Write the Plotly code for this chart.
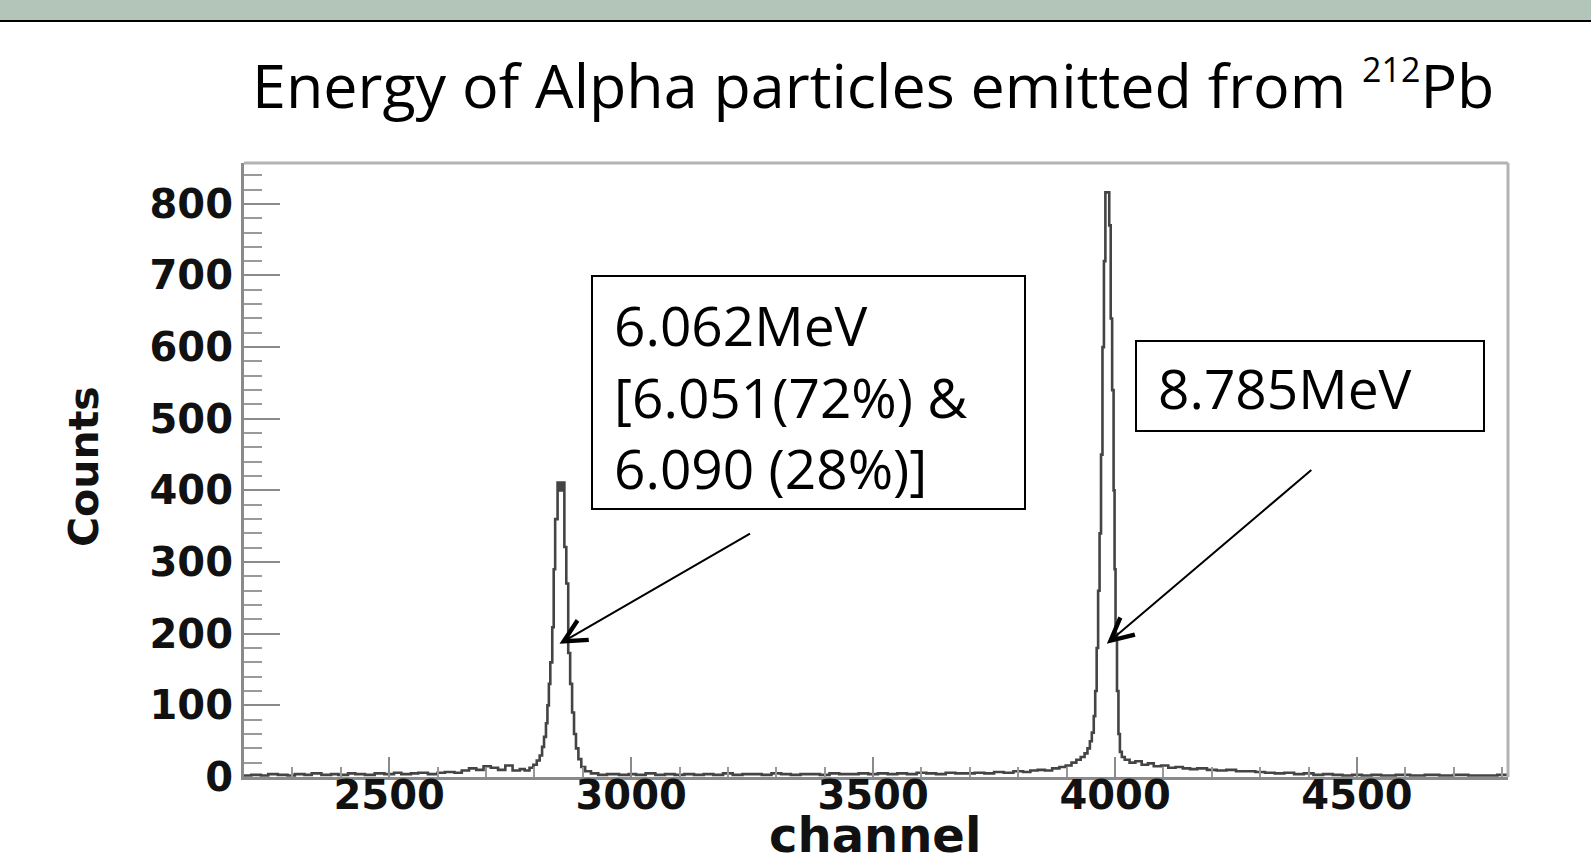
import plotly.graph_objects as go

# ---------------- data ----------------
channel = [2200, 2215, 2235, 2250, 2270, 2290, 2305, 2325, 2340, 2360, 2380, 2395,
           2415, 2430, 2450, 2470, 2490, 2510, 2525, 2545, 2560, 2580, 2600, 2615,
           2635, 2650, 2665, 2680, 2695, 2710, 2725, 2740, 2755, 2770, 2780, 2790,
           2798, 2805, 2811, 2816, 2820, 2824, 2827, 2830, 2833, 2837, 2840, 2843,
           2848, 2853, 2858, 2862, 2866, 2870, 2874, 2878, 2882, 2886, 2891, 2897,
           2905, 2917, 2932, 2950, 2975, 2995, 3010, 3030, 3050, 3070, 3090, 3110,
           3130, 3150, 3170, 3190, 3210, 3230, 3250, 3270, 3290, 3310, 3330, 3350,
           3370, 3390, 3410, 3430, 3450, 3470, 3490, 3510, 3530, 3550, 3570, 3590,
           3610, 3630, 3650, 3670, 3690, 3710, 3730, 3750, 3770, 3790, 3810, 3825,
           3840, 3855, 3870, 3885, 3898, 3910, 3920, 3929, 3937, 3943, 3948, 3952,
           3956, 3959, 3962, 3965, 3968, 3971, 3974, 3977, 3980, 3988, 3991, 3994,
           3997, 3999, 4001, 4004, 4007, 4010, 4014, 4020, 4030, 4042, 4055, 4068,
           4080, 4095, 4110, 4125, 4140, 4155, 4170, 4190, 4210, 4230, 4250, 4270,
           4290, 4310, 4330, 4350, 4370, 4390, 4410, 4430, 4450, 4470, 4490, 4510,
           4530, 4550, 4580, 4610, 4640, 4670, 4700, 4730, 4760, 4790, 4812]
counts = [2, 3, 2, 4, 3, 2, 4, 3, 5, 3, 4, 3,
          5, 4, 3, 5, 4, 6, 4, 5, 6, 4, 6, 7,
          6, 9, 12, 10, 15, 13, 10, 16, 9, 11, 9, 13,
          17, 23, 30, 42, 56, 75, 100, 130, 160, 209, 290, 360,
          411, 400, 411, 321, 270, 173, 130, 90, 60, 40, 25, 14,
          8, 5, 3, 4, 3, 4, 3, 5, 3, 4, 3, 4,
          3, 4, 3, 5, 3, 4, 4, 3, 5, 4, 3, 4,
          4, 3, 5, 4, 4, 5, 4, 5, 4, 5, 4, 6,
          5, 4, 6, 5, 5, 6, 5, 7, 6, 8, 7, 9,
          10, 9, 12, 14, 16, 20, 24, 28, 33, 40, 50, 62,
          85, 120, 180, 260, 340, 450, 600, 720, 816, 770, 640, 540,
          400, 290, 200, 120, 60, 35, 28, 24, 20, 22, 17, 19,
          15, 16, 13, 14, 12, 11, 12, 10, 9, 10, 8, 8,
          7, 6, 5, 6, 4, 5, 3, 4, 3, 2, 3, 2,
          3, 2, 3, 2, 3, 2, 3, 2, 2, 3, 2]

x_tick_vals = [2500, 3000, 3500, 4000, 4500]
y_tick_vals = [0, 100, 200, 300, 400, 500, 600, 700, 800]
x_range = [2200, 4812]
y_range = [0, 857]

title_text = ("Energy of Alpha particles emitted from "
              "<sup><span style='font-size:34px'>212</span></sup>Pb")
x_title = "channel"
y_title = "Counts"
label_a = "6.062MeV<br>[6.051(72%) &<br>6.090 (28%)]"
label_b = "8.785MeV"
arrow_a_tip = (2852, 186)
arrow_b_tip = (3983, 186)

# ---------------- layout geometry (pixels) ----------------
W, H = 1591, 863
L, R, T, B = 244, 1508, 163, 777


def px_x(p):
    return (p - L) / (R - L)


def px_y(p):
    return (B - p) / (B - T)


fig = go.Figure()
fig.add_trace(go.Scatter(
    x=channel, y=counts, mode="lines", line=dict(shape="hv", color="#444444", width=2.6),
    showlegend=False, hoverinfo="x+y"))

tick_font = dict(family="DejaVu Sans", size=40, color="#111111", weight="bold")

xaxis = dict(
    range=x_range, tickvals=x_tick_vals, ticks="inside", ticklen=20, tickwidth=2,
    tickcolor="#8a8a8a", showgrid=False, zeroline=False, automargin=False,
    showline=True, linecolor="#8a8a8a", linewidth=3,
    tickfont=tick_font,
    minor=dict(dtick=100, tick0=2200, ticks="inside", ticklen=10, tickwidth=2,
               tickcolor="#999999", showgrid=False),
)
yaxis = dict(
    range=y_range, tickvals=y_tick_vals, ticks="inside", ticklen=36, tickwidth=2,
    tickcolor="#8a8a8a", showgrid=False, zeroline=False, automargin=False,
    showline=True, linecolor="#8a8a8a", linewidth=3,
    tickfont=tick_font,
    minor=dict(dtick=20, tick0=0, ticks="inside", ticklen=18, tickwidth=2,
               tickcolor="#9a9a9a", showgrid=False),
)

fig.update_layout(
    width=W, height=H, autosize=False,
    margin=dict(l=L, r=W - R, t=T, b=H - B, pad=0, autoexpand=False),
    paper_bgcolor="white", plot_bgcolor="white",
    xaxis=xaxis, yaxis=yaxis,
)
try:
    fig.update_xaxes(ticklabelstandoff=-19)
except Exception:
    pass

shapes = [
    # slide header band
    dict(type="rect", xref="paper", yref="paper", x0=px_x(0), x1=px_x(W), y0=px_y(20), y1=px_y(0),
         fillcolor="#b3c4b9", line=dict(width=0), layer="above"),
    dict(type="rect", xref="paper", yref="paper", x0=px_x(0), x1=px_x(W), y0=px_y(22), y1=px_y(20),
         fillcolor="#000000", line=dict(width=0), layer="above"),
    # frame top / right
    dict(type="line", xref="paper", yref="paper", x0=0, x1=1, y0=1, y1=1,
         line=dict(color="#b3b3b3", width=3)),
    dict(type="line", xref="paper", yref="paper", x0=1, x1=1, y0=0, y1=1,
         line=dict(color="#b3b3b3", width=3)),
    # label boxes
    dict(type="rect", xref="paper", yref="paper", x0=px_x(592), x1=px_x(1025),
         y0=px_y(509), y1=px_y(276), line=dict(color="black", width=2), fillcolor="white"),
    dict(type="rect", xref="paper", yref="paper", x0=px_x(1136), x1=px_x(1484),
         y0=px_y(431), y1=px_y(341), line=dict(color="black", width=2), fillcolor="white"),
]
fig.update_layout(shapes=shapes)

box_font = dict(family="Open Sans", size=55, color="black")
axis_title_font = dict(family="DejaVu Sans", color="#111111", weight="bold")
annotations = [
    dict(text=title_text, xref="paper", yref="paper", x=px_x(250), y=px_y(85),
         xanchor="left", yanchor="middle", showarrow=False,
         font=dict(family="Open Sans", size=61, color="black")),
    dict(text=x_title, xref="paper", yref="paper", x=px_x(875), y=px_y(835),
         xanchor="center", yanchor="middle", showarrow=False,
         font=dict(axis_title_font, size=48)),
    dict(text=y_title, xref="paper", yref="paper", x=px_x(84), y=px_y(467),
         xanchor="center", yanchor="middle", showarrow=False, textangle=-90,
         font=dict(axis_title_font, size=41)),
    dict(text=label_a, xref="paper", yref="paper", x=px_x(612), y=px_y(396),
         xanchor="left", yanchor="middle", align="left", showarrow=False, font=box_font),
    dict(text=label_b, xref="paper", yref="paper", x=px_x(1156), y=px_y(387),
         xanchor="left", yanchor="middle", align="left", showarrow=False, font=box_font),
    dict(text="", x=arrow_a_tip[0], y=arrow_a_tip[1], xref="x", yref="y",
         showarrow=True, axref="pixel", ayref="pixel", ax=753 - 561, ay=533 - 644,
         arrowhead=5, arrowsize=2.2, arrowwidth=2, arrowcolor="black", standoff=0),
    dict(text="", x=arrow_b_tip[0], y=arrow_b_tip[1], xref="x", yref="y",
         showarrow=True, axref="pixel", ayref="pixel", ax=1312 - 1106, ay=469 - 644,
         arrowhead=5, arrowsize=2.2, arrowwidth=2, arrowcolor="black", standoff=0),
]
fig.update_layout(annotations=annotations)

fig.write_html("out.html", config={"displayModeBar": False},
               post_script="document.body.style.margin='0';")
